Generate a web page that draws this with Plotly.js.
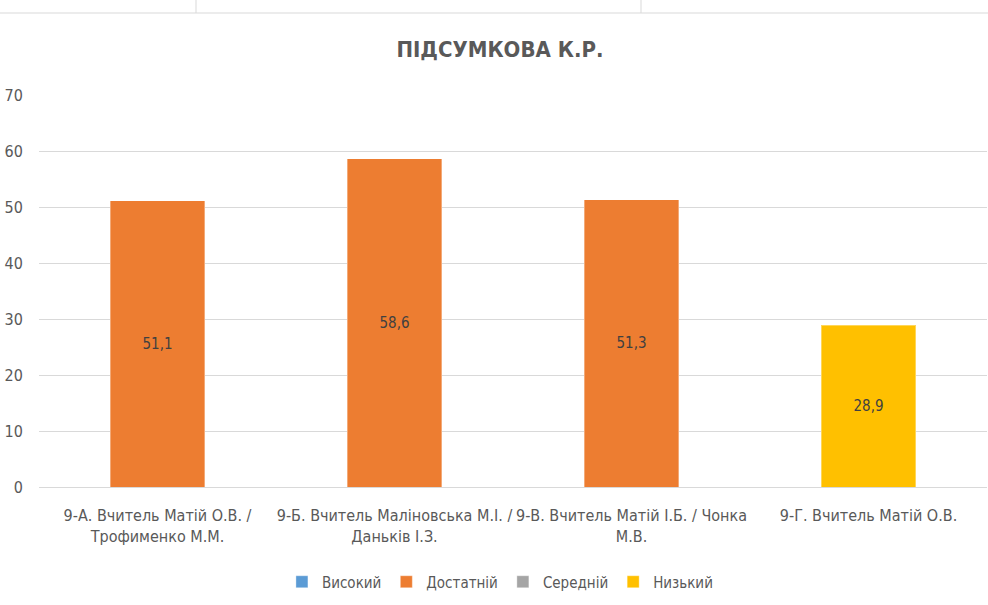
<!DOCTYPE html>
<html>
<head>
<meta charset="utf-8">
<script src="https://cdn.plot.ly/plotly-3.0.1.min.js"></script>
<style>
  html, body { margin: 0; padding: 0; background: #fff; }
  #chart { width: 988px; height: 605px; }
</style>
</head>
<body>
<div id="chart"></div>
<script>
var div = document.getElementById('chart');

// categories (classes / teachers)
var classes = [
  '9-А. Вчитель Матій О.В. /<br>Трофименко М.М.',
  '9-Б. Вчитель Маліновська М.І. /<br>Даньків І.З.',
  '9-В. Вчитель Матій І.Б. / Чонка<br>М.В.',
  '9-Г. Вчитель Матій О.В.'
];

// values per level
var vysokyi   = [null, null, null, null];
var dostatnii = [51.1, 58.6, 51.3, null];
var serednii  = [null, null, null, null];
var nyzkyi    = [null, null, null, 28.9];

var levelNames  = ['Високий', 'Достатній', 'Середній', 'Низький'];
var levelColors = ['#5B9BD5', '#ED7D31', '#A5A5A5', '#FFC000'];
var levelValues = [vysokyi, dostatnii, serednii, nyzkyi];

var FONT = '"Liberation Sans Narrow", "DejaVu Sans Condensed", Arial, sans-serif';

var data = levelValues.map(function (vals, i) {
  return {
    type: 'bar',
    x: classes,
    y: vals,
    name: levelNames[i],
    marker: {color: levelColors[i], line: {color: 'rgba(255,255,255,0.35)', width: 1}},
    texttemplate: '%{y:.1f}',
    textposition: 'inside',
    insidetextanchor: 'middle',
    constraintext: 'none',
    textfont: {family: FONT, size: 15, color: '#404040'},
    hoverinfo: 'x+y+name'
  };
});

// pixel -> paper helpers for the spreadsheet cell borders at the top
var L = 39, T = 95, W = 948, H = 392;
function px(x) { return (x - L) / W; }
function py(y) { return (T + H - y) / H; }
var border = {color: '#d9d9d9', width: 1};

var layout = {
  width: 988,
  height: 605,
  margin: {l: L, r: 1, t: T, b: 605 - T - H},
  paper_bgcolor: '#ffffff',
  plot_bgcolor: '#ffffff',
  separators: ', ',
  barmode: 'stack',
  bargap: 0.6,
  font: {family: FONT, color: '#595959', size: 15},
  title: {
    text: '<b>ПІДСУМКОВА К.Р.</b>',
    font: {family: FONT, size: 22, color: '#595959'},
    x: 0.506, xref: 'container', xanchor: 'center',
    y: 0.918, yref: 'container', yanchor: 'middle'
  },
  xaxis: {
    showgrid: false,
    showline: false,
    zeroline: false,
    ticks: 'outside',
    ticklen: 14,
    tickcolor: 'rgba(0,0,0,0)',
    tickfont: {family: FONT, size: 16, color: '#595959'},
    fixedrange: true
  },
  yaxis: {
    range: [0, 70],
    dtick: 10,
    showgrid: true,
    gridcolor: '#d9d9d9',
    gridwidth: 1,
    zeroline: true,
    zerolinecolor: '#d9d9d9',
    zerolinewidth: 1,
    showline: false,
    ticks: 'outside',
    ticklen: 12,
    tickcolor: 'rgba(0,0,0,0)',
    tickfont: {family: FONT, size: 16, color: '#595959'},
    fixedrange: true
  },
  showlegend: true,
  legend: {
    orientation: 'h',
    xref: 'container', x: 0.506, xanchor: 'center',
    yref: 'container', y: 0.038, yanchor: 'middle',
    font: {family: FONT, size: 15, color: '#595959'},
    traceorder: 'normal',
    itemwidth: 30
  },
  shapes: [
    {type: 'line', xref: 'paper', yref: 'paper', x0: px(0), x1: px(988), y0: py(13), y1: py(13), line: border},
    {type: 'line', xref: 'paper', yref: 'paper', x0: px(196), x1: px(196), y0: py(0), y1: py(13), line: border},
    {type: 'line', xref: 'paper', yref: 'paper', x0: px(641), x1: px(641), y0: py(0), y1: py(13), line: border}
  ]
};

Plotly.newPlot(div, data, layout, {displayModeBar: false, staticPlot: true});
</script>
</body>
</html>
